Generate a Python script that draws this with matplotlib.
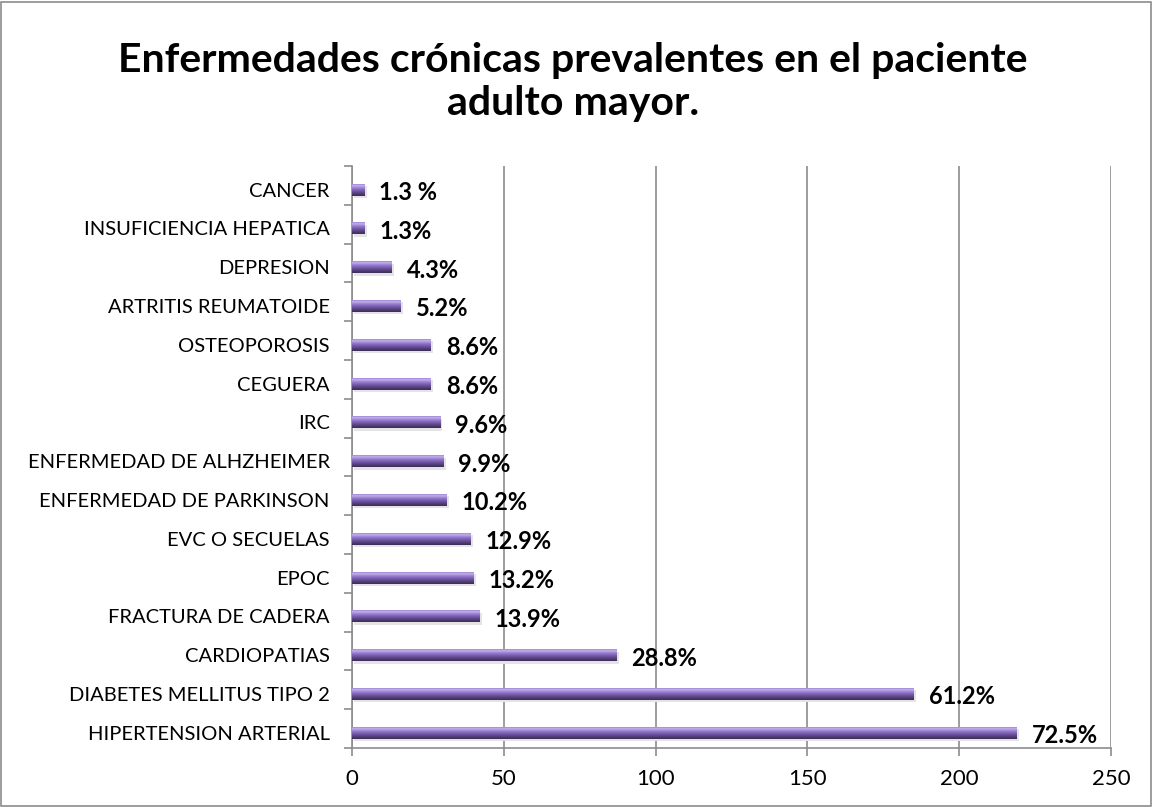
import numpy as np
import matplotlib
matplotlib.use('Agg')
import matplotlib.pyplot as plt
from matplotlib.patches import Rectangle
from matplotlib.colors import LinearSegmentedColormap

# Datos (de abajo hacia arriba)
enfermedades = ['HIPERTENSION ARTERIAL', 'DIABETES MELLITUS TIPO 2', 'CARDIOPATIAS',
                'FRACTURA DE CADERA', 'EPOC', 'EVC O SECUELAS', 'ENFERMEDAD DE PARKINSON',
                'ENFERMEDAD DE ALHZHEIMER', 'IRC', 'CEGUERA', 'OSTEOPOROSIS',
                'ARTRITIS REUMATOIDE', 'DEPRESION', 'INSUFICIENCIA HEPATICA', 'CANCER']
pacientes = [219, 185, 87, 42, 40, 39, 31, 30, 29, 26, 26, 16, 13, 4, 4]
etiquetas = ['72.5%', '61.2%', '28.8%', '13.9%', '13.2%', '12.9%', '10.2%',
             '9.9%', '9.6%', '8.6%', '8.6%', '5.2%', '4.3%', '1.3%', '1.3 %']

plt.rcParams['font.family'] = ['Lato', 'DejaVu Sans']

fig = plt.figure(figsize=(11.53, 8.07), dpi=100)
ax = fig.add_axes([0.3053, 0.0731, 0.6583, 0.7212])

y = np.arange(len(enfermedades))
h = 0.31
gris = '#8c8c8c'

# degradado vertical para imitar la barra 3D
cmap = LinearSegmentedColormap.from_list(
    'morado', ['#3a2c55', '#54407c', '#7459a8', '#9479cf', '#c3b0ec', '#8a70c4'])
grad = np.linspace(0, 1, 64).reshape(-1, 1)

ax.barh(y - 0.06, pacientes, height=h, left=0.8, color='#e4e4e4', zorder=2)
barras = ax.barh(y, pacientes, height=h, color='#7459a8', zorder=3)
for b in barras:
    x0, y0 = b.get_x(), b.get_y()
    im = ax.imshow(grad, cmap=cmap, aspect='auto', origin='lower',
                   extent=(x0, x0 + b.get_width(), y0, y0 + b.get_height()), zorder=4)
    im.set_clip_path(b)

for yi, v, t in zip(y, pacientes, etiquetas):
    ax.annotate(t, (v, yi), xytext=(11, -2), textcoords='offset points',
                va='center', ha='left', fontsize=17, fontweight='bold', zorder=6)

d = -0.11
ax.set_ylim(-0.5 - d, len(enfermedades) - 0.5 - d)
ax.set_xlim(0, 250)
ax.set_xticks([0, 50, 100, 150, 200, 250])
ax.set_yticks(y)
ax.set_yticklabels(enfermedades, fontsize=14.5)
ax.set_yticks(np.arange(len(enfermedades) + 1) - 0.5 - d, minor=True)
ax.tick_params(axis='y', which='major', length=0, pad=16)
ax.tick_params(axis='y', which='minor', length=6, color=gris, width=1.2)
ax.tick_params(axis='x', length=6, color=gris, width=1.2, labelsize=16, pad=9)

ax.grid(axis='x', color=gris, linewidth=1.2, zorder=0)
for s in ['top', 'right']:
    ax.spines[s].set_visible(False)
for s in ['left', 'bottom']:
    ax.spines[s].set_color(gris)
    ax.spines[s].set_linewidth(1.2)

fig.text(0.497, 0.898, 'Enfermedades crónicas prevalentes en el paciente\nadulto mayor.',
         ha='center', va='center', fontsize=29.5, fontweight='bold', linespacing=1.2)

fig.patches.append(Rectangle((0.001, 0.001), 0.997, 0.997, transform=fig.transFigure,
                             fill=False, edgecolor=gris, linewidth=1.2))

fig.savefig('out.png', dpi=100)
